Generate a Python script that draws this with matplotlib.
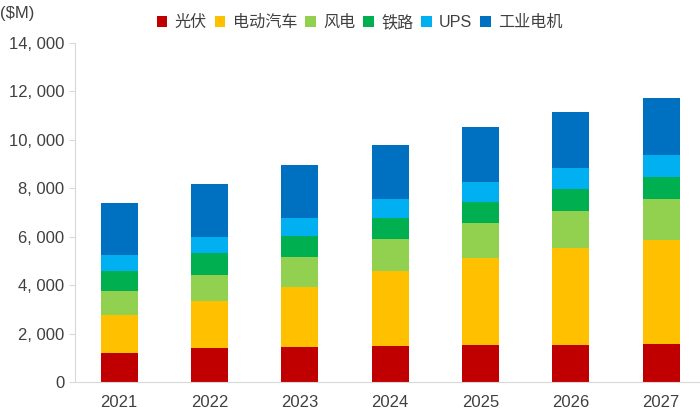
import matplotlib.pyplot as plt
import numpy as np

plt.rcParams['font.family'] = ['Liberation Sans', 'Noto Sans CJK SC', 'DejaVu Sans']

# 年份与各细分市场规模（$M）
years = ['2021', '2022', '2023', '2024', '2025', '2026', '2027']
series_names = ['光伏', '电动汽车', '风电', '铁路', 'UPS', '工业电机']
pv = [1190, 1390, 1445, 1475, 1515, 1530, 1555]
ev = [1580, 1955, 2490, 3110, 3595, 3995, 4310]
wind = [980, 1085, 1215, 1310, 1460, 1555, 1705]
rail = [840, 885, 880, 895, 865, 895, 895]
ups = [660, 685, 730, 785, 825, 865, 910]
motor = [2135, 2175, 2200, 2205, 2285, 2315, 2340]
colors = ['#C00000', '#FFC000', '#92D050', '#00B050', '#00B0F0', '#0070C0']

fig = plt.figure(figsize=(7, 4.15), dpi=100)
ax = fig.add_axes([0.107, 0.0795, 0.893, 0.817])

x = np.arange(len(years))
bottom = np.zeros(len(years))
handles = []
for name, vals, c in zip(series_names, [pv, ev, wind, rail, ups, motor], colors):
    b = ax.bar(x, vals, width=0.41, bottom=bottom, color=c, label=name)
    bottom += np.array(vals)
    handles.append(b)

ax.set_ylim(0, 14000)
ax.set_xlim(-0.49, 6.43)
ax.set_yticks(range(0, 14001, 2000))
ax.set_yticklabels(['{:,}'.format(v).replace(',', ', ') for v in range(0, 14001, 2000)])
ax.set_xticks(x)
ax.set_xticklabels(years)

for s in ['top', 'right']:
    ax.spines[s].set_visible(False)
ax.spines['left'].set_color('#D9D9D9')
ax.spines['bottom'].set_color('#D9D9D9')
ax.tick_params(axis='y', colors='#D9D9D9', labelcolor='#404040', labelsize=12, length=4)
ax.tick_params(axis='x', length=0, labelcolor='#404040', labelsize=12, pad=9)

fig.text(0.0, 0.985, '($M)', fontsize=12, color='#404040', va='top', ha='left')

leg = fig.legend(handles=handles, labels=series_names, loc='center', bbox_to_anchor=(0.514, 0.947),
                 ncol=6, frameon=False, fontsize=11.6, handlelength=0.65, handleheight=0.65,
                 handletextpad=0.45, columnspacing=0.5)
for t in leg.get_texts():
    t.set_color('#404040')
    t.set_family(['Liberation Sans', 'Noto Sans CJK SC'])

fig.savefig('out.png', dpi=100)
